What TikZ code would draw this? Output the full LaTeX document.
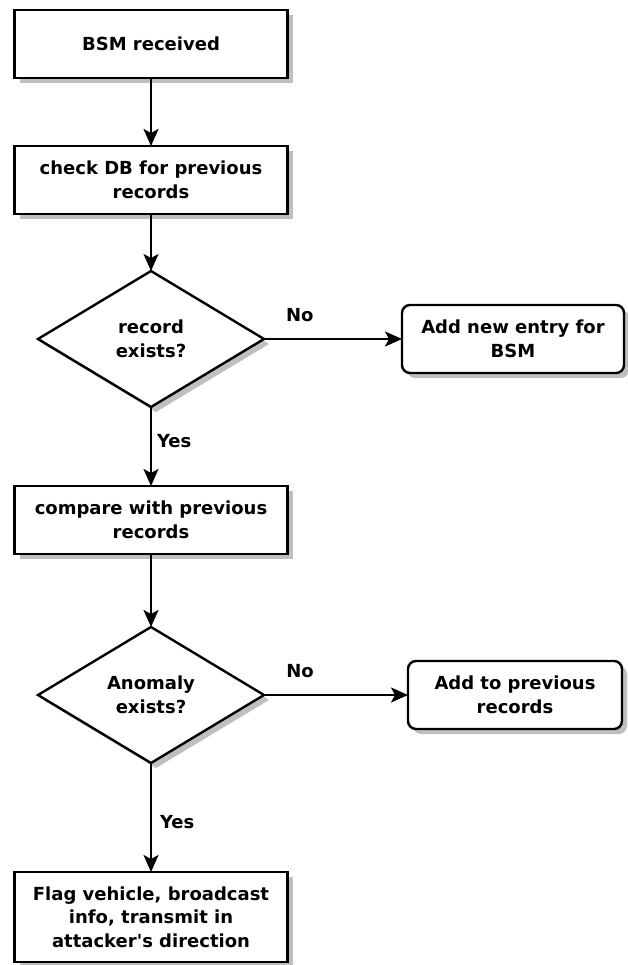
\documentclass[tikz,border=0pt]{standalone}
\usepackage{fontspec}
\setmainfont{DejaVu Sans}
\usetikzlibrary{arrows.meta, positioning, shapes.geometric, shadows}

\begin{document}
\begin{tikzpicture}[
			x=1pt, y=1pt,
			font=\fontsize{18}{23.5}\selectfont\bfseries,
			shade/.style={drop shadow={shadow xshift=5pt, shadow yshift=-5pt, fill=gray!50, opacity=1}},
			process/.style={rectangle, draw, fill=white, line width=2.4pt, minimum width=273pt, minimum height=68pt, align=center, inner sep=0pt, outer sep=0pt, shade},
			outcome/.style={process, rounded corners=8pt, minimum width=222pt},
			decision/.style={diamond, draw, fill=white, line width=2.4pt, minimum width=226pt, minimum height=136pt, align=center, inner sep=0pt, outer sep=0pt, shade},
			arrow/.style={-{Stealth[length=17pt, width=15pt, inset=4pt]}, line width=2.2pt},
			answer/.style={inner sep=0pt}
		]
		\useasboundingbox (0,0) rectangle (627,-965);
		\node[process] (received) at (151,-44) {BSM received};
		\node[process, below=68pt of received] (checkdb) {check DB for previous\\records};
		\node[decision, below=57pt of checkdb] (exists) {record\\exists?};
		\node[outcome, right=138pt of exists] (newentry) {Add new entry for\\BSM};
		\node[process, below=79pt of exists] (compare) {compare with previous\\records};
		\node[decision, below=73pt of compare] (anomaly) {Anomaly\\exists?};
		\node[outcome, right=144pt of anomaly, minimum width=214pt] (addprev) {Add to previous\\records};
		\node[process, below=109pt of anomaly, minimum height=90pt] (flag) {Flag vehicle, broadcast\\info, transmit in\\attacker\textquotesingle s direction};

		\draw[arrow] (received) -- (checkdb);
		\draw[arrow] (checkdb) -- (exists);
		\draw[arrow] (exists) -- node[answer, pos=0.26, above=16pt] {No} (newentry);
		\draw[arrow] (exists) -- node[answer, pos=0.43, right=5pt] {Yes} (compare);
		\draw[arrow] (compare) -- (anomaly);
		\draw[arrow] (anomaly) -- node[answer, pos=0.25, above=16pt] {No} (addprev);
		\draw[arrow] (anomaly) -- node[answer, pos=0.54, right=8pt] {Yes} (flag);
		\end{tikzpicture}
\end{document}
